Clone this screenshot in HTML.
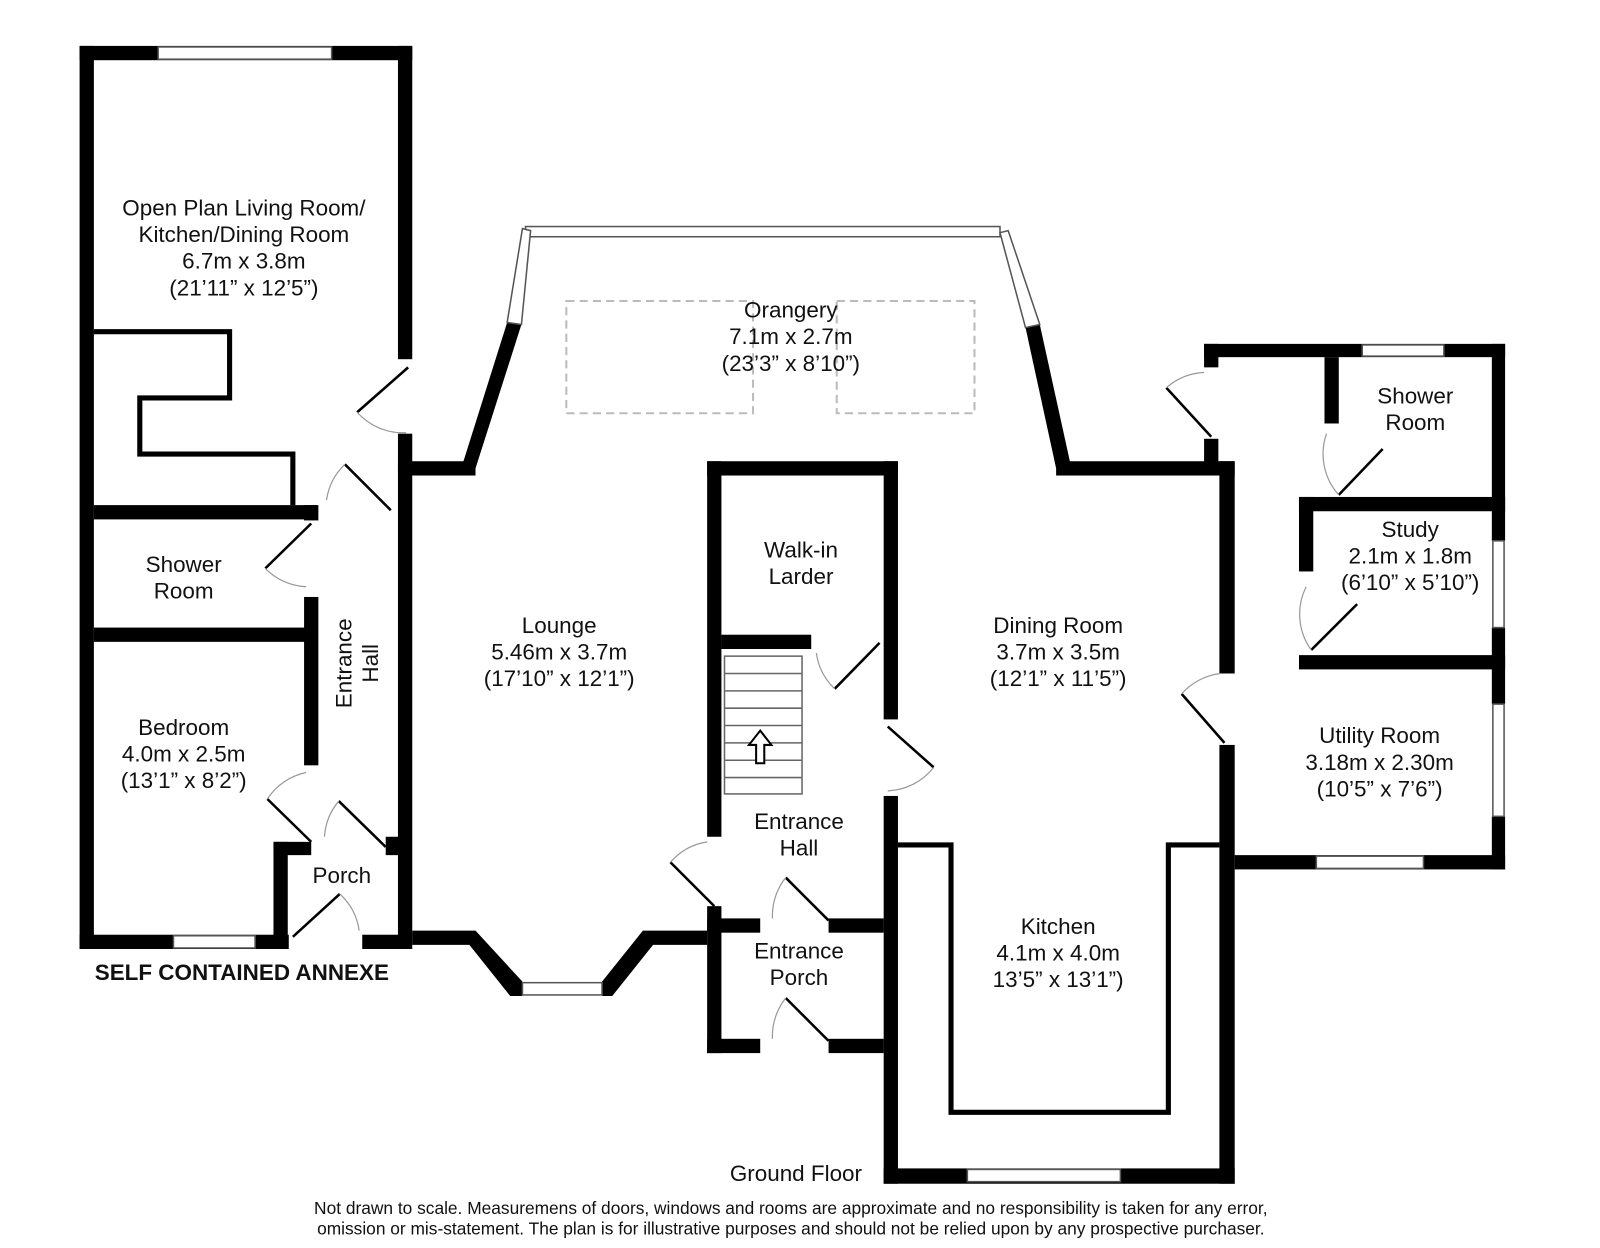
<!DOCTYPE html>
<html><head><meta charset="utf-8"><style>
html,body{margin:0;padding:0;background:#fff;width:1600px;height:1248px;overflow:hidden}
svg{display:block}
text{font-family:"Liberation Sans",Arial,sans-serif;font-size:22px;fill:#111;text-anchor:middle;dominant-baseline:central}
</style></head><body>
<svg width="1600" height="1248" viewBox="0 0 1568 1223" preserveAspectRatio="none" xmlns="http://www.w3.org/2000/svg">
<g fill="#000">
<rect x="78" y="45" width="14" height="885"/>
<rect x="78" y="45" width="326" height="14"/>
<rect x="390" y="45" width="14" height="307"/>
<rect x="390" y="425" width="14" height="493"/>
<rect x="378" y="820" width="14" height="18"/>
<rect x="78" y="916" width="205" height="14"/>
<rect x="355" y="916" width="49" height="14"/>
<rect x="92" y="495" width="218" height="14"/>
<rect x="298" y="495" width="14" height="15"/>
<rect x="298" y="585" width="14" height="165"/>
<rect x="92" y="615" width="210" height="14"/>
<rect x="268" y="825" width="14" height="105"/>
<rect x="268" y="825" width="37" height="13"/>
<rect x="390" y="452" width="76" height="14"/>
<polygon points="452,459 466,459 511,318 497,316"/>
<polygon points="1019,318 1005,321 1035,459 1050,459"/>
<rect x="1035" y="452" width="175" height="14"/>
<polygon points="404,912 466,912 512,962 512,976 500,976 460,926 404,926"/>
<polygon points="590,962 630,912 693,912 693,926 640,926 600,976 590,976"/>
<rect x="693" y="452" width="187" height="14"/>
<rect x="693" y="452" width="14" height="368"/>
<rect x="693" y="888" width="14" height="144"/>
<rect x="866" y="452" width="14" height="253"/>
<rect x="866" y="780" width="14" height="380"/>
<rect x="707" y="622" width="88" height="14"/>
<rect x="693" y="900" width="52" height="14"/>
<rect x="812" y="900" width="54" height="14"/>
<rect x="693" y="1018" width="52" height="14"/>
<rect x="812" y="1018" width="54" height="14"/>
<rect x="866" y="1145" width="344" height="15"/>
<rect x="1195" y="452" width="15" height="208"/>
<rect x="1195" y="730" width="15" height="430"/>
<rect x="1180" y="337" width="295" height="13"/>
<rect x="1180" y="337" width="14" height="23"/>
<rect x="1180" y="430" width="14" height="30"/>
<rect x="1462" y="337" width="13" height="193"/>
<rect x="1462" y="615" width="13" height="75"/>
<rect x="1462" y="800" width="13" height="52"/>
<rect x="1210" y="838" width="265" height="14"/>
<rect x="1298" y="350" width="14" height="65"/>
<rect x="1273" y="487" width="202" height="14"/>
<rect x="1273" y="487" width="14" height="73"/>
<rect x="1273" y="642" width="202" height="14"/>
</g>
<g fill="#fff" stroke="#555" stroke-width="1.5">
<rect x="155" y="46" width="170" height="12"/>
<rect x="170" y="917" width="80" height="12"/>
<rect x="512" y="963" width="78" height="12"/>
<rect x="948" y="1146" width="150" height="12"/>
<rect x="1335" y="338" width="80" height="11"/>
<rect x="1463" y="530" width="11" height="85"/>
<rect x="1463" y="690" width="11" height="110"/>
<rect x="1290" y="839" width="105" height="12"/>
<rect x="515" y="222" width="465" height="10"/>
<polygon points="497,316 511,318 520,226 512,224"/>
<polygon points="1005,321 1019,318 988,226 980,228"/>
</g>
<g fill="none" stroke="#000" stroke-width="5">
<polyline points="92,325 225,325 225,390 137,390 137,445 287,445 287,495"/>
<polyline points="880,828 932,828 932,1090 1145,1090 1145,828 1195,828"/>
</g>
<g fill="none" stroke="#bbb" stroke-width="2" stroke-dasharray="8,5">
<rect x="555" y="295" width="183" height="110"/>
<rect x="820" y="295" width="135" height="110"/>
</g>
<g stroke="#666" stroke-width="1.5" fill="#fff">
<rect x="710" y="643" width="76" height="135"/>
<line x1="710" y1="660" x2="786" y2="660"/><line x1="710" y1="677" x2="786" y2="677"/>
<line x1="710" y1="694" x2="786" y2="694"/><line x1="710" y1="711" x2="786" y2="711"/>
<line x1="710" y1="728" x2="786" y2="728"/><line x1="710" y1="745" x2="786" y2="745"/>
<line x1="710" y1="762" x2="786" y2="762"/>
<polygon points="741,748 749,748 749,730 756,730 745,716 734,730 741,730" stroke="#000" stroke-width="2"/>
</g>
<g stroke="#000" stroke-width="2.5" fill="none">
<line x1="400" y1="360" x2="350" y2="404"/>
<line x1="338" y1="455" x2="383" y2="500"/>
<line x1="305" y1="513" x2="260" y2="557"/>
<line x1="262" y1="783" x2="305" y2="825"/>
<line x1="332" y1="785" x2="378" y2="830"/>
<line x1="287" y1="918" x2="333" y2="876"/>
<line x1="657" y1="845" x2="700" y2="888"/>
<line x1="818" y1="675" x2="862" y2="630"/>
<line x1="870" y1="712" x2="915" y2="752"/>
<line x1="770" y1="860" x2="812" y2="902"/>
<line x1="770" y1="978" x2="812" y2="1020"/>
<line x1="1143" y1="380" x2="1187" y2="428"/>
<line x1="1355" y1="440" x2="1312" y2="485"/>
<line x1="1330" y1="592" x2="1285" y2="637"/>
<line x1="1158" y1="680" x2="1200" y2="728"/>
</g>
<g stroke="#999" stroke-width="1.2" fill="none">
<path d="M350,404 A60,60 0 0 0 398,424"/>
<path d="M338,455 A60,60 0 0 0 320,490"/>
<path d="M260,557 A60,60 0 0 0 300,575"/>
<path d="M262,783 A60,60 0 0 1 300,757"/>
<path d="M332,785 A60,60 0 0 0 318,820"/>
<path d="M333,876 A60,60 0 0 1 352,912"/>
<path d="M657,845 A60,60 0 0 1 693,825"/>
<path d="M818,675 A60,60 0 0 1 800,640"/>
<path d="M915,752 A60,60 0 0 1 870,775"/>
<path d="M770,860 A60,60 0 0 0 757,900"/>
<path d="M770,978 A60,60 0 0 0 757,1018"/>
<path d="M1143,380 A60,60 0 0 1 1180,365"/>
<path d="M1312,485 A60,60 0 0 1 1300,425"/>
<path d="M1285,637 A60,60 0 0 1 1280,575"/>
<path d="M1158,680 A60,60 0 0 1 1196,660"/>
</g>
<text x="239" y="204">Open Plan Living Room/</text>
<text x="239" y="230">Kitchen/Dining Room</text>
<text x="239" y="256">6.7m x 3.8m</text>
<text x="239" y="282">(21’11” x 12’5”)</text>
<text x="180" y="553">Shower</text><text x="180" y="579">Room</text>
<text x="180" y="713">Bedroom</text><text x="180" y="739">4.0m x 2.5m</text><text x="180" y="765">(13’1” x 8’2”)</text>
<text transform="translate(337,650) rotate(-90)" x="0" y="0">Entrance</text>
<text transform="translate(363,650) rotate(-90)" x="0" y="0">Hall</text>
<text x="335" y="858">Porch</text>
<text x="237" y="953" style="font-weight:bold;font-size:22px">SELF CONTAINED ANNEXE</text>
<text x="775" y="304">Orangery</text><text x="775" y="330">7.1m x 2.7m</text><text x="775" y="356">(23’3” x 8’10”)</text>
<text x="548" y="613">Lounge</text><text x="548" y="639">5.46m x 3.7m</text><text x="548" y="665">(17’10” x 12’1”)</text>
<text x="785" y="539">Walk-in</text><text x="785" y="565">Larder</text>
<text x="1037" y="613">Dining Room</text><text x="1037" y="639">3.7m x 3.5m</text><text x="1037" y="665">(12’1” x 11’5”)</text>
<text x="783" y="805">Entrance</text><text x="783" y="831">Hall</text>
<text x="783" y="932">Entrance</text><text x="783" y="958">Porch</text>
<text x="1037" y="908">Kitchen</text><text x="1037" y="934">4.1m x 4.0m</text><text x="1037" y="960">13’5” x 13’1”)</text>
<text x="1387" y="388">Shower</text><text x="1387" y="414">Room</text>
<text x="1382" y="519">Study</text><text x="1382" y="545">2.1m x 1.8m</text><text x="1382" y="571">(6’10” x 5’10”)</text>
<text x="1352" y="721">Utility Room</text><text x="1352" y="747">3.18m x 2.30m</text><text x="1352" y="773">(10’5” x 7’6”)</text>
<text x="780" y="1150">Ground Floor</text>
<text x="775" y="1184" style="font-size:17px">Not drawn to scale. Measuremens of doors, windows and rooms are approximate and no responsibility is taken for any error,</text>
<text x="775" y="1204" style="font-size:17px">omission or mis-statement. The plan is for illustrative purposes and should not be relied upon by any prospective purchaser.</text>
</svg>
</body></html>
